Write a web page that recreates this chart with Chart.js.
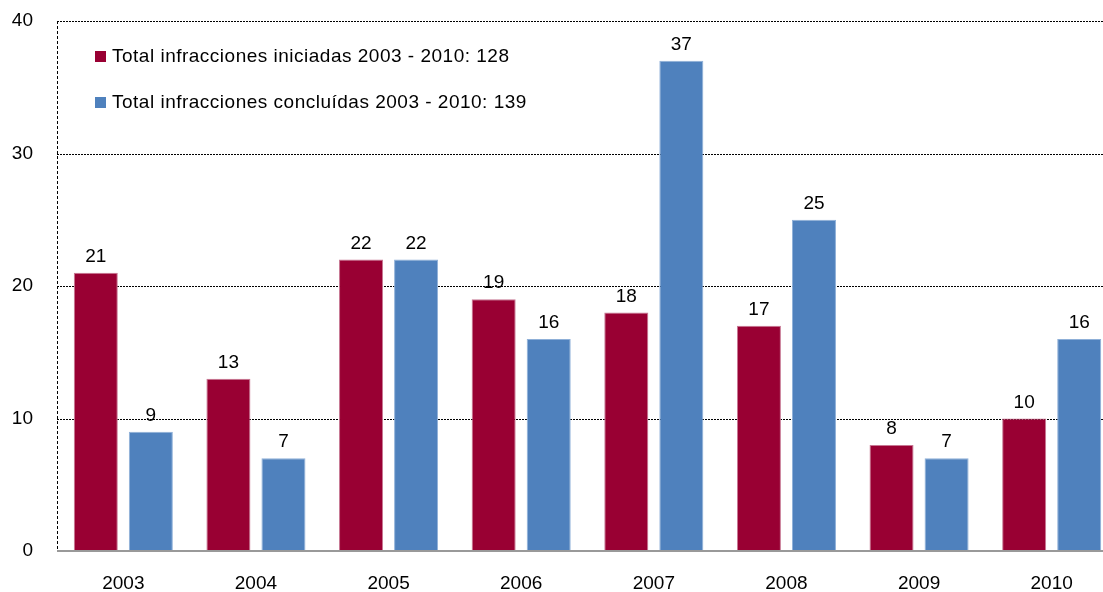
<!DOCTYPE html>
<html>
<head>
<meta charset="utf-8">
<script src="https://cdn.jsdelivr.net/npm/chart.js@4"></script>
<style>
  html, body { margin: 0; padding: 0; background: #fff; overflow: hidden; }
  #wrap { width: 1120px; height: 592px; }
</style>
</head>
<body>
<div id="wrap"><canvas id="chart" width="1120" height="592"></canvas></div>
<script>
const years = ['2003', '2004', '2005', '2006', '2007', '2008', '2009', '2010']
const iniciadas = [21, 13, 22, 19, 18, 17, 8, 10]
const concluidas = [9, 7, 22, 16, 37, 25, 7, 16]
const yTicks = [0, 10, 20, 30, 40]

const sum = arr => arr.reduce((a, b) => a + b, 0)
const FONT = "'Liberation Sans', Arial, sans-serif"

// dotted grid, dashed y axis, grey x axis
const axesPlugin = {
    id: 'axes',
    beforeDatasetsDraw(chart) {
        const { ctx, chartArea, scales } = chart
        ctx.save()
        ctx.strokeStyle = '#000'
        ctx.lineWidth = 1
        ctx.setLineDash([2, 1])
        for (const v of yTicks) {
            if (v === 0) continue
            const y = Math.round(scales.y.getPixelForValue(v)) + 0.5
            ctx.beginPath()
            ctx.moveTo(chartArea.left, y)
            ctx.lineTo(chartArea.right, y)
            ctx.stroke()
        }
        ctx.setLineDash([3, 2])
        const x = Math.round(chartArea.left) + 0.5
        ctx.beginPath()
        ctx.moveTo(x, chartArea.top)
        ctx.lineTo(x, chartArea.bottom)
        ctx.stroke()
        ctx.restore()
    },
    afterDatasetsDraw(chart) {
        const { ctx, chartArea, scales } = chart
        ctx.save()
        ctx.strokeStyle = '#999'
        ctx.lineWidth = 2
        const y = scales.y.getPixelForValue(0)
        ctx.beginPath()
        ctx.moveTo(chartArea.left, y)
        ctx.lineTo(chartArea.right, y)
        ctx.stroke()

        // value labels
        ctx.fillStyle = '#000'
        ctx.font = '19px ' + FONT
        ctx.textAlign = 'center'
        ctx.textBaseline = 'alphabetic'
        chart.data.datasets.forEach((ds, i) => {
            const meta = chart.getDatasetMeta(i)
            meta.data.forEach((bar, j) => {
                ctx.fillText(String(ds.data[j]), bar.x, bar.y - 11)
            })
        })
        ctx.restore()
    },
    afterDraw(chart) {
        const { ctx } = chart
        ctx.save()
        ctx.font = '19px ' + FONT
        ctx.letterSpacing = '0.5px'
        ctx.textBaseline = 'middle'
        ctx.textAlign = 'left'
        const rows = [56, 102]
        chart.data.datasets.forEach((ds, i) => {
            ctx.fillStyle = ds.backgroundColor
            ctx.fillRect(95, rows[i] - 5, 11, 11)
            ctx.fillStyle = '#000'
            ctx.fillText(ds.label, 112, rows[i] + 1)
        })
        ctx.restore()
    }
}

new Chart(document.getElementById('chart'), {
    type: 'bar',
    data: {
        labels: years,
        datasets: [{
            label: `Total infracciones iniciadas 2003 - 2010: ${sum(iniciadas)}`,
            data: iniciadas,
            backgroundColor: '#990033',
            borderColor: '#c77793',
            borderWidth: 1,
            categoryPercentage: 0.83,
            barPercentage: 0.8
        }, {
            label: `Total infracciones concluídas 2003 - 2010: ${sum(concluidas)}`,
            data: concluidas,
            backgroundColor: '#4f81bd',
            borderColor: '#8fb0d8',
            borderWidth: 1,
            categoryPercentage: 0.83,
            barPercentage: 0.8
        }]
    },
    options: {
        responsive: false,
        animation: false,
        layout: { padding: { top: 21, right: 2, left: 0, bottom: 0 } },
        plugins: {
            legend: { display: false },
            tooltip: { enabled: false }
        },
        scales: {
            x: {
                grid: { display: false },
                border: { display: false },
                ticks: {
                    color: '#000',
                    font: { size: 19, family: FONT },
                    padding: 13,
                    maxRotation: 0
                },
                afterFit(scale) { scale.height = 41 }
            },
            y: {
                min: 0,
                max: 40,
                grid: {
                    display: true,
                    drawOnChartArea: false,
                    drawTicks: true,
                    tickLength: 20,
                    color: 'rgba(0,0,0,0)',
                    tickColor: 'rgba(0,0,0,0)'
                },
                border: { display: false },
                afterBuildTicks(scale) { scale.ticks = yTicks.map(v => ({ value: v })) },
                ticks: {
                    color: '#000',
                    font: { size: 19, family: FONT },
                    padding: 4
                },
                afterFit(scale) { scale.width = 57 }
            }
        }
    },
    plugins: [axesPlugin]
})
</script>
</body>
</html>
